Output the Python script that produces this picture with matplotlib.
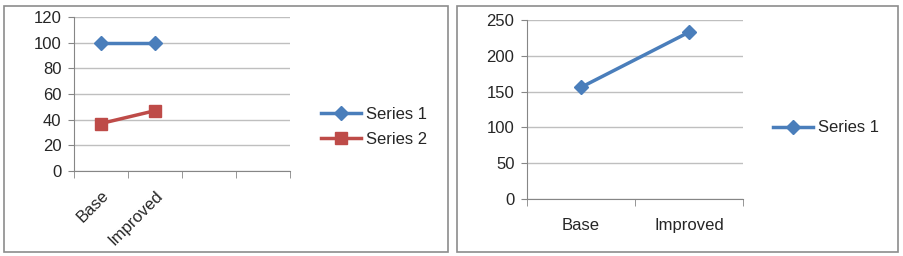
import matplotlib
matplotlib.use("Agg")
from matplotlib import pyplot as plt
from matplotlib.patches import Rectangle

plt.rcParams['font.family'] = ['Liberation Sans', 'DejaVu Sans']

# left chart
cats_left = ["Base", "Improved"]
series1_left = [100, 100]
series2_left = [37, 47]
yticks_left = [0, 20, 40, 60, 80, 100, 120]

# right chart
cats_right = ["Base", "Improved"]
series1_right = [156, 233]
yticks_right = [0, 50, 100, 150, 200, 250]

blue = "#4A7EBB"
red = "#BE4B48"
grid = "#BFBFBF"
axcol = "#868686"
txt = "#262626"
fs = 12

W, H = 904, 256
fig = plt.figure(figsize=(W / 100, H / 100), dpi=100)


def px(x0, y0, x1, y1):
    return [x0 / W, 1 - y1 / H, (x1 - x0) / W, (y1 - y0) / H]


# chart borders
for x0, x1 in [(4, 448), (457, 898)]:
    fig.patches.append(Rectangle((x0 / W, 4 / H), (x1 - x0) / W, (250 - 4) / H,
                                 transform=fig.transFigure, fill=False,
                                 edgecolor="#8C8C8C", linewidth=1.2))


def style(ax, ymax, yt):
    ax.set_ylim(0, ymax)
    ax.set_yticks(yt)
    ax.yaxis.grid(True, color=grid, linewidth=1)
    ax.set_axisbelow(True)
    for s in ["top", "right"]:
        ax.spines[s].set_visible(False)
    for s in ["left", "bottom"]:
        ax.spines[s].set_color(axcol)
    ax.tick_params(axis="y", colors=axcol, labelcolor=txt, labelsize=fs,
                   length=4, pad=5)
    ax.tick_params(axis="x", which="major", length=0, labelcolor=txt,
                   labelsize=fs)
    ax.tick_params(axis="x", which="minor", colors=axcol, length=5,
                   direction="out")


# left
ax1 = fig.add_axes(px(74, 17, 290, 171))
n1 = 4
x1 = [i + 0.5 for i in range(len(cats_left))]
ax1.plot(x1, series1_left, color=blue, lw=2.5, marker="D", ms=7,
         label="Series 1")
ax1.plot(x1, series2_left, color=red, lw=2.5, marker="s", ms=9,
         label="Series 2")
ax1.set_xlim(0, n1)
style(ax1, 120, yticks_left)
ax1.set_xticks(range(n1 + 1), minor=True)
ax1.set_xticks(x1)
ax1.set_xticklabels(cats_left, rotation=45, ha="right", va="top",
                    rotation_mode="anchor")
ax1.tick_params(axis="x", which="major", pad=12)
ax1.legend(loc="center left", bbox_to_anchor=(306 / W, 1 - 127 / H),
           bbox_transform=fig.transFigure, frameon=False, fontsize=fs,
           handlelength=2.4, labelspacing=0.6, handletextpad=0.3,
           labelcolor=txt)

# right
ax2 = fig.add_axes(px(527, 20, 743, 199))
x2 = [i + 0.5 for i in range(len(cats_right))]
ax2.plot(x2, series1_right, color=blue, lw=2.5, marker="D", ms=7,
         label="Series 1")
ax2.set_xlim(0, len(cats_right))
style(ax2, 250, yticks_right)
ax2.set_xticks(range(len(cats_right) + 1), minor=True)
ax2.set_xticks(x2)
ax2.set_xticklabels(cats_right)
ax2.tick_params(axis="x", which="major", pad=14)
ax2.legend(loc="center left", bbox_to_anchor=(758 / W, 1 - 128 / H),
           bbox_transform=fig.transFigure, frameon=False, fontsize=fs,
           handlelength=2.4, handletextpad=0.3, labelcolor=txt)

fig.savefig("out.png", dpi=100, facecolor="white")
